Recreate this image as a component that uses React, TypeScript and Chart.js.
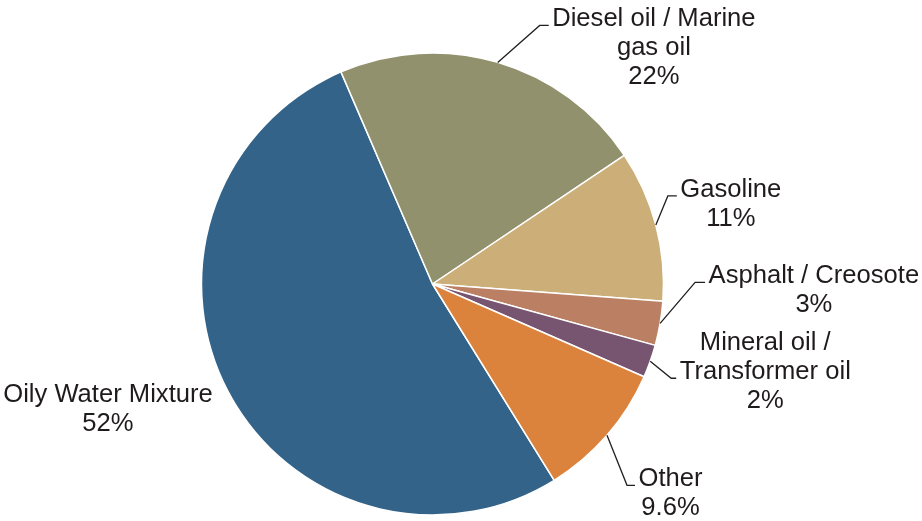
import React, { useEffect, useRef } from "react";
import { Chart, registerables } from "chart.js";

Chart.register(...registerables);

const categories = [
  "Oily Water Mixture",
  "Diesel oil / Marine gas oil",
  "Gasoline",
  "Asphalt / Creosote",
  "Mineral oil / Transformer oil",
  "Other",
];
const shares = [52.4, 22.1, 10.6, 3.1, 2.3, 9.6];
const shareLabels = ["52%", "22%", "11%", "3%", "2%", "9.6%"];
const labelLines = [
  ["Oily Water Mixture"],
  ["Diesel oil / Marine", "gas oil"],
  ["Gasoline"],
  ["Asphalt / Creosote"],
  ["Mineral oil /", "Transformer oil"],
  ["Other"],
];
const colors = ["#336389", "#92916D", "#CCAE78", "#BB8064", "#77546F", "#DB833C"];

// label placement (style config): offsets relative to the arc's outer mid point
const labelLayout = [
  { leader: false, dx: -15, dy: 11, elbow: [0, 0], tail: 0, anchorLine: 0 },
  { leader: true, dx: 0, dy: 0, elbow: [42, -37], tail: 9, anchorLine: 0 },
  { leader: true, dx: 0, dy: 0, elbow: [12, -29], tail: 9, anchorLine: 0 },
  { leader: true, dx: 0, dy: 0, elbow: [35, -41], tail: 10, anchorLine: 0 },
  { leader: true, dx: 0, dy: 0, elbow: [21, 17], tail: 5, anchorLine: 1 },
  { leader: true, dx: 0, dy: 0, elbow: [20, 50], tail: 8, anchorLine: 0 },
];

const FONT = "25.6px 'Liberation Sans', Arial, sans-serif";
const LINE_H = 29;
const TEXT_COLOR = "#1F1B1C";

const labelPlugin = {
  id: "pieLabels",
  afterDatasetsDraw(chart: any) {
    const ctx = chart.ctx;
    const meta = chart.getDatasetMeta(0);
    ctx.save();
    ctx.font = FONT;
    ctx.fillStyle = TEXT_COLOR;
    ctx.strokeStyle = "#231F20";
    ctx.lineWidth = 1.3;
    ctx.textAlign = "center";
    ctx.textBaseline = "alphabetic";
    meta.data.forEach((arc: any, i: number) => {
      const p = arc.getProps(["x", "y", "startAngle", "endAngle", "outerRadius"], true);
      const mid = (p.startAngle + p.endAngle) / 2;
      const sx = p.x + Math.cos(mid) * p.outerRadius;
      const sy = p.y + Math.sin(mid) * p.outerRadius;
      const lines = [...labelLines[i], shareLabels[i]];
      const maxW = Math.max(...lines.map((l) => ctx.measureText(l).width));
      const lay = labelLayout[i];
      let cx: number;
      let firstBaseline: number;
      if (lay.leader) {
        const ex = sx + lay.elbow[0];
        const ey = sy + lay.elbow[1];
        const hx = ex + lay.tail;
        ctx.beginPath();
        ctx.moveTo(sx, sy);
        ctx.lineTo(ex, ey);
        ctx.lineTo(hx, ey);
        ctx.stroke();
        cx = hx + 3.5 + maxW / 2;
        firstBaseline = ey + 1 - lay.anchorLine * LINE_H;
      } else {
        cx = sx + lay.dx - maxW / 2;
        firstBaseline = sy + lay.dy;
      }
      lines.forEach((l, k) => {
        ctx.fillText(l, cx, firstBaseline + k * LINE_H);
      });
    });
    ctx.restore();
  },
};

export default function App() {
  const canvasRef = useRef<HTMLCanvasElement | null>(null);

  useEffect(() => {
    if (!canvasRef.current) return;
    const chart = new Chart(canvasRef.current, {
      type: "pie",
      data: {
        labels: categories,
        datasets: [
          {
            data: shares,
            backgroundColor: colors,
            borderColor: "#FFFFFF",
            borderWidth: 1.5,
            radius: 231,
          } as any,
        ],
      },
      options: {
        animation: false,
        responsive: false,
        rotation: 148.2,
        layout: { padding: { left: 201, right: 258, top: 53, bottom: 6 } },
        plugins: {
          legend: { display: false },
          tooltip: { enabled: false },
        },
      },
      plugins: [labelPlugin],
    });
    return () => chart.destroy();
  }, []);

  return (
    <div style={{ position: "fixed", left: 0, top: 0, width: 922, height: 521, background: "#fff" }}>
      <canvas ref={canvasRef} width={922} height={521} />
    </div>
  );
}
